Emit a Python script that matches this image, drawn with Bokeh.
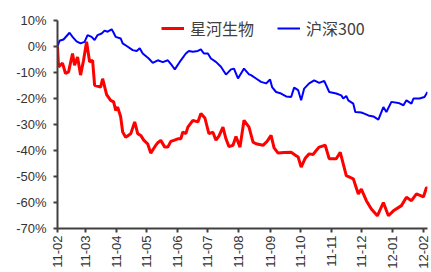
import math
import pandas as pd
from bokeh.plotting import figure
from bokeh.models import (FixedTicker, PrintfTickFormatter, DatetimeTickFormatter,
                          Legend, LegendItem, Range1d, ColumnDataSource)
from bokeh.embed import file_html
from bokeh.resources import INLINE

series_names = ["星河生物", "沪深300"]

red_dates = [
    "2011-02-02", "2011-02-03", "2011-02-07", "2011-02-10", "2011-02-13", "2011-02-17",
    "2011-02-19", "2011-02-22", "2011-02-25", "2011-02-28", "2011-03-03", "2011-03-06",
    "2011-03-09", "2011-03-11", "2011-03-17", "2011-03-19", "2011-03-23", "2011-03-27",
    "2011-03-30", "2011-04-01", "2011-04-03", "2011-04-06", "2011-04-08", "2011-04-11",
    "2011-04-16", "2011-04-20", "2011-04-23", "2011-04-26", "2011-04-29", "2011-05-03",
    "2011-05-06", "2011-05-11", "2011-05-13", "2011-05-16", "2011-05-20", "2011-05-23",
    "2011-05-26", "2011-05-29", "2011-06-02", "2011-06-05", "2011-06-07", "2011-06-10",
    "2011-06-12", "2011-06-17", "2011-06-22", "2011-06-25", "2011-06-29", "2011-07-03",
    "2011-07-07", "2011-07-10", "2011-07-13", "2011-07-17", "2011-07-20", "2011-07-23",
    "2011-07-27", "2011-07-30", "2011-08-03", "2011-08-07", "2011-08-12", "2011-08-16",
    "2011-08-19", "2011-08-26", "2011-08-30", "2011-09-03", "2011-09-06", "2011-09-10",
    "2011-09-16", "2011-09-23", "2011-09-28", "2011-09-30", "2011-10-03", "2011-10-07",
    "2011-10-11", "2011-10-15", "2011-10-18", "2011-10-21", "2011-10-27", "2011-10-31",
    "2011-11-07", "2011-11-11", "2011-11-17", "2011-11-24", "2011-11-29", "2011-12-02",
    "2011-12-07", "2011-12-12", "2011-12-18", "2011-12-24", "2011-12-29", "2012-01-03",
    "2012-01-11", "2012-01-16", "2012-01-21", "2012-01-26", "2012-02-02", "2012-02-05",
    "2012-02-06",
]
red_values = [
    0.0, -7.8, -6.4, -10.4, -9.8, -2.7,
    -7.2, -4.0, -11.0, -5.3, 1.8, -5.9,
    -5.3, -14.9, -15.6, -12.4, -18.5, -20.7,
    -21.3, -24.6, -23.3, -27.0, -32.9, -34.9,
    -33.6, -29.0, -33.5, -34.2, -36.0, -37.5,
    -41.0, -38.0, -37.0, -36.1, -38.7, -38.7,
    -36.5, -36.1, -35.5, -35.5, -32.9, -33.5,
    -31.0, -28.4, -29.0, -25.8, -27.5, -33.5,
    -33.0, -36.0, -34.5, -31.0, -35.5, -38.5,
    -38.0, -34.6, -38.7, -28.4, -31.0, -36.8,
    -37.4, -38.0, -36.5, -34.2, -39.0, -41.0,
    -40.8, -40.7, -42.0, -42.5, -46.4, -43.0,
    -41.3, -41.5, -40.0, -38.7, -38.0, -43.2,
    -43.2, -40.7, -49.7, -50.9, -56.7, -54.8,
    -59.3, -62.5, -65.1, -60.0, -65.1, -63.2,
    -61.2, -58.0, -59.3, -56.7, -57.8, -54.2,
    -54.5,
]

blue_dates = [
    "2011-02-02", "2011-02-04", "2011-02-08", "2011-02-14", "2011-02-17", "2011-02-21",
    "2011-02-25", "2011-03-01", "2011-03-04", "2011-03-08", "2011-03-11", "2011-03-14",
    "2011-03-18", "2011-03-21", "2011-03-24", "2011-03-28", "2011-03-30", "2011-04-01",
    "2011-04-06", "2011-04-08", "2011-04-12", "2011-04-18", "2011-04-22", "2011-04-25",
    "2011-04-28", "2011-05-04", "2011-05-08", "2011-05-10", "2011-05-13", "2011-05-18",
    "2011-05-23", "2011-05-27", "2011-05-30", "2011-06-05", "2011-06-10", "2011-06-13",
    "2011-06-17", "2011-06-22", "2011-06-25", "2011-06-28", "2011-07-02", "2011-07-05",
    "2011-07-10", "2011-07-15", "2011-07-20", "2011-07-25", "2011-07-28", "2011-08-01",
    "2011-08-07", "2011-08-12", "2011-08-14", "2011-08-19", "2011-08-24", "2011-08-29",
    "2011-09-02", "2011-09-04", "2011-09-08", "2011-09-13", "2011-09-18", "2011-09-23",
    "2011-09-26", "2011-09-30", "2011-10-03", "2011-10-06", "2011-10-11", "2011-10-16",
    "2011-10-21", "2011-10-26", "2011-10-31", "2011-11-07", "2011-11-12", "2011-11-14",
    "2011-11-17", "2011-11-19", "2011-11-24", "2011-11-26", "2011-12-02", "2011-12-05",
    "2011-12-09", "2011-12-14", "2011-12-19", "2011-12-24", "2011-12-27", "2012-01-01",
    "2012-01-08", "2012-01-13", "2012-01-16", "2012-01-21", "2012-01-23", "2012-01-29",
    "2012-02-03", "2012-02-06",
]
blue_values = [
    0.0, 2.2, 2.7, 5.3, 3.7, 2.0,
    1.2, 1.8, 4.4, 3.7, 2.5, 4.4,
    5.0, 6.1, 5.7, 6.6, 5.3, 3.7,
    3.1, 1.2, 0.2, -1.4, -1.7, -0.7,
    -2.7, -4.6, -6.3, -5.9, -5.3, -6.0,
    -5.3, -7.2, -8.8, -5.3, -2.7, -1.7,
    -2.0, -1.7, -1.1, -2.7, -2.7, -4.6,
    -5.9, -7.8, -10.8, -8.8, -8.5, -12.3,
    -8.5, -10.7, -11.0, -12.3, -13.6, -14.2,
    -12.7, -15.6, -17.5, -18.1, -19.2, -19.4,
    -15.8, -16.8, -20.7, -16.2, -14.2, -13.0,
    -14.0, -13.2, -17.5, -18.1, -18.8, -20.0,
    -19.0, -20.7, -22.0, -25.2, -25.4, -25.8,
    -26.5, -26.9, -28.1, -23.3, -25.2, -21.3,
    -21.7, -22.6, -20.7, -22.0, -20.0, -20.0,
    -19.4, -17.5,
]

x_tick_dates = [
    "2011-02-02", "2011-03-02", "2011-04-02", "2011-05-02", "2011-06-02", "2011-07-02",
    "2011-08-02", "2011-09-02", "2011-10-02", "2011-11-02", "2011-12-02", "2012-01-02",
    "2012-02-02",
]
y_ticks = [-70, -60, -50, -40, -30, -20, -10, 0, 10]

red_src = ColumnDataSource(dict(x=pd.to_datetime(red_dates), y=red_values))
blue_src = ColumnDataSource(dict(x=pd.to_datetime(blue_dates), y=blue_values))

p = figure(width=431, height=272, output_backend="svg", toolbar_location=None,
           x_axis_type="datetime",
           x_range=Range1d(pd.Timestamp("2011-02-02"), pd.Timestamp("2012-02-06")),
           y_range=Range1d(-70, 10),
           min_border_left=57, min_border_right=4, min_border_top=20, min_border_bottom=44)
p.outline_line_color = None
p.grid.visible = False
p.background_fill_color = "white"
p.border_fill_color = "white"

r_blue = p.line("x", "y", source=blue_src, line_color="#0000FF", line_width=2)
r_red = p.line("x", "y", source=red_src, line_color="#FF0000", line_width=3)

axis_color = "#404040"
label_color = "#333333"
for ax in (p.xaxis[0], p.yaxis[0]):
    ax.axis_line_color = axis_color
    ax.axis_line_width = 2
    ax.major_tick_line_color = axis_color
    ax.major_tick_line_width = 2
    ax.major_tick_out = 4
    ax.major_tick_in = 0
    ax.minor_tick_line_color = None
    ax.major_label_text_font = "Liberation Sans"
    ax.major_label_text_font_size = "13px"
    ax.major_label_text_color = label_color

p.yaxis.ticker = FixedTicker(ticks=y_ticks)
p.yaxis.formatter = PrintfTickFormatter(format="%d%%")
p.yaxis.major_label_standoff = 7

p.xaxis.ticker = FixedTicker(ticks=[pd.Timestamp(d).value // 10**6 for d in x_tick_dates])
fmt = "%y-%m"
p.xaxis.formatter = DatetimeTickFormatter(days=fmt, months=fmt, years=fmt, hours=fmt,
                                          minutes=fmt, seconds=fmt, milliseconds=fmt)
p.xaxis.major_label_orientation = math.pi / 2
p.xaxis.major_label_standoff = 3

legend = Legend(items=[LegendItem(label=series_names[0], renderers=[r_red]),
                       LegendItem(label=series_names[1], renderers=[r_blue])],
                orientation="horizontal", location=(104, 185),
                border_line_color=None, background_fill_alpha=0,
                padding=0, margin=0, spacing=23, label_standoff=6,
                glyph_width=23, glyph_height=30, label_height=30,
                label_text_font="Noto Sans CJK SC", label_text_font_size="16px",
                label_text_baseline="middle",
                label_text_color="#404040")
p.add_layout(legend)

open("out.html", "w").write(file_html(p, INLINE))
